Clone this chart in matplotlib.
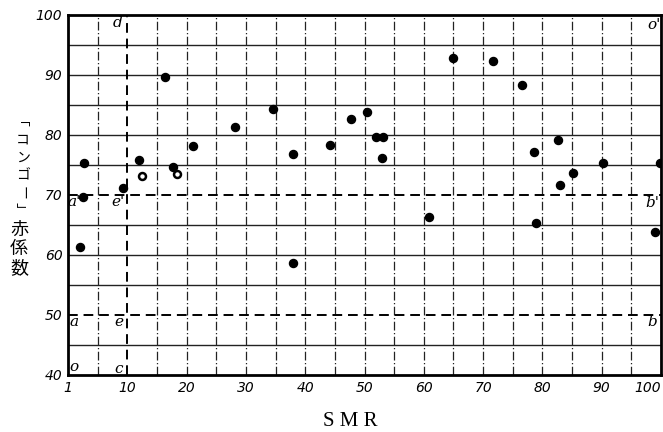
import matplotlib
matplotlib.use("Agg")
import matplotlib.pyplot as plt

# ---- data ----
filled_x = [2.0, 2.5, 2.7, 9.2, 12.0, 16.3, 17.7, 21.0, 28.2, 34.6, 38.0, 37.9,
            44.2, 47.7, 50.4, 51.9, 53.1, 52.9, 60.8, 64.9, 71.7, 76.6, 78.6,
            79.0, 82.6, 83.0, 85.1, 90.2, 99.0, 99.8]
filled_y = [61.3, 69.6, 75.4, 71.1, 75.8, 89.6, 74.7, 78.2, 81.3, 84.3, 76.8, 58.6,
            78.3, 82.7, 83.8, 79.7, 79.7, 76.1, 66.3, 92.8, 92.3, 88.3, 77.2,
            65.3, 79.2, 71.7, 73.6, 75.4, 63.8, 75.4]
open_x = [12.4, 18.4]
open_y = [73.2, 73.5]

xticks = [0, 10, 20, 30, 40, 50, 60, 70, 80, 90, 100]
xticklabels = ["1", "10", "20", "30", "40", "50", "60", "70", "80", "90", "100"]
yticks = [40, 50, 60, 70, 80, 90, 100]
yticklabels = ["40", "50", "60", "70", "80", "90", "100"]
grid_x = [5, 15, 20, 25, 30, 35, 40, 45, 50, 55, 60, 65, 70, 75, 80, 85, 90, 95]
grid_y = [45, 55, 60, 65, 75, 80, 85, 90, 95]
dash_x = [10]
dash_y = [50, 70]

ylabel_kana = ["「", "コ", "ン", "ゴ", "ー", "」"]
kana_rot = [-90, 0, 0, 0, -90, -90]
ylabel_kanji = ["赤", "係", "数"]

fig = plt.figure(figsize=(6.63, 4.32), dpi=100)
ax = fig.add_axes([68/663, 1-375/432, (661-68)/663, (375-15)/432])
ax.set_xlim(0, 100)
ax.set_ylim(40, 100)

for gx in grid_x:
    ax.axvline(gx, color="#222222", lw=0.9, ls=(0, (7, 2, 1, 2)), zorder=1)
for gy in grid_y:
    ax.axhline(gy, color="#222222", lw=1.0, zorder=1)
for dx in dash_x:
    ax.axvline(dx, color="black", lw=1.4, ls=(0, (5, 3)), zorder=1)
for dy in dash_y:
    ax.axhline(dy, color="black", lw=1.4, ls=(0, (5, 3)), zorder=1)

ax.plot(filled_x, filled_y, "o", color="black", ms=5.8, zorder=3)
ax.plot(open_x, open_y, "o", mfc="white", mec="black", mew=1.8, ms=5.0, zorder=3)

for s in ax.spines.values():
    s.set_linewidth(2.0)
    s.set_color("black")

ax.set_xticks(xticks)
ax.set_xticklabels(xticklabels, fontsize=10, style="italic")
ax.get_xticklabels()[-1].set_ha("right")
ax.set_yticks(yticks)
ax.set_yticklabels(yticklabels, fontsize=10, style="italic")
ax.tick_params(length=0, pad=4)

# corner letters
lab_kw = dict(fontsize=11, style="italic", family="DejaVu Serif", va="center", ha="center")
ax.text(8.4, 98.6, "d", **lab_kw)
ax.text(98.8, 98.3, "o'", **lab_kw)
ax.text(1.0, 68.8, "a'", **lab_kw)
ax.text(8.4, 68.8, "e'", **lab_kw)
ax.text(98.6, 68.7, "b'", **lab_kw)
ax.text(1.0, 48.8, "a", **lab_kw)
ax.text(8.6, 48.8, "e", **lab_kw)
ax.text(98.6, 48.8, "b", **lab_kw)
ax.text(1.0, 41.3, "o", **lab_kw)
ax.text(8.6, 41.0, "c", **lab_kw)

# axis labels
fig.text(350/663, 1-422/432, "S M R", fontsize=15, family="Liberation Serif",
         ha="center", va="center")
cjk = ["Noto Sans CJK JP", "DejaVu Sans"]
kana_y = [128, 140, 158, 175, 193, 209]
kana_x = [13, 23, 23, 23, 23, 21]
for ch, px, py, r in zip(ylabel_kana, kana_x, kana_y, kana_rot):
    fig.text(px/663, 1-py/432, ch, fontsize=10, family=cjk, rotation=r,
             ha="center", va="center")
kanji_y = [230, 249, 268]
for ch, py in zip(ylabel_kanji, kanji_y):
    fig.text(19/663, 1-py/432, ch, fontsize=13, family=cjk, ha="center", va="center")

fig.savefig("out.png", dpi=100)
